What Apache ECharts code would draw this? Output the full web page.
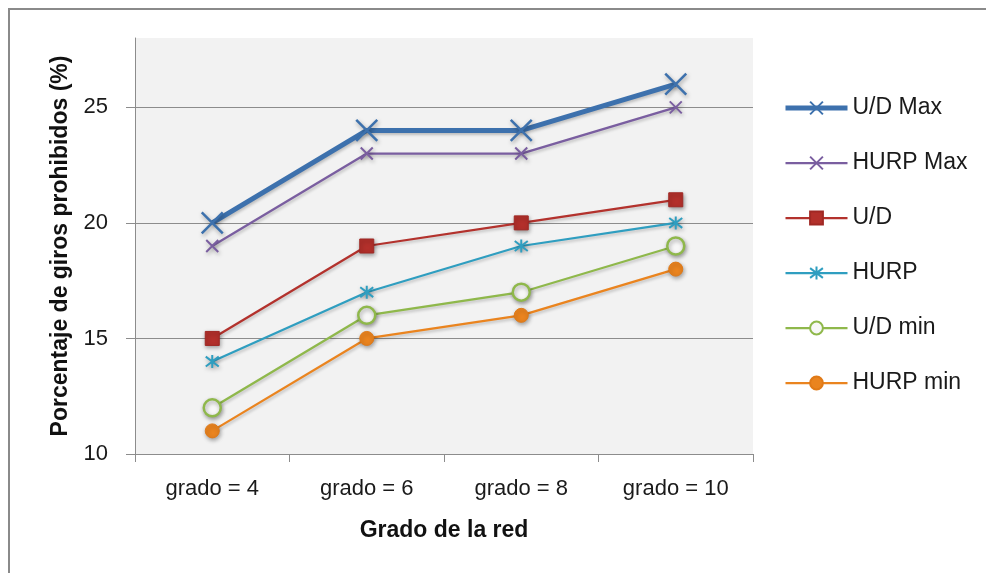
<!DOCTYPE html>
<html>
<head>
<meta charset="utf-8">
<title>Porcentaje de giros prohibidos</title>
<script src="https://cdn.jsdelivr.net/npm/echarts@6/dist/echarts.min.js"></script>
<style>
  html, body { margin: 0; padding: 0; background: #ffffff; }
  #chart { width: 986px; height: 573px; }
</style>
</head>
<body>
<div id="chart"></div>
<script>
// Network degree categories
const categories = ['grado = 4', 'grado = 6', 'grado = 8', 'grado = 10'];

// Percentage of prohibited turns per algorithm
const udMax   = [20, 24, 24, 26];
const hurpMax = [19, 23, 23, 25];
const ud      = [15, 19, 20, 21];
const hurp    = [14, 17, 19, 20];
const udMin   = [12, 16, 17, 19];
const hurpMin = [11, 15, 16, 18];

// Value axis ticks
const yTicks = [10, 15, 20, 25];

const FONT = "'Liberation Sans', Arial, sans-serif";
const GRID_GREY = '#8c8c8c';

const X_MARK = 'path://M0,0L10,10M10,0L0,10';
const STAR_MARK = 'path://M5,0L5,10M1.2,1.2L8.8,8.8M8.8,1.2L1.2,8.8';

const markShadow = { shadowColor: 'rgba(0,0,0,0.35)', shadowBlur: 4, shadowOffsetX: 1, shadowOffsetY: 2 };
const lineShadow = { shadowColor: 'rgba(0,0,0,0.22)', shadowBlur: 3, shadowOffsetX: 1, shadowOffsetY: 2 };

function makeSeries(name, data, color, opts) {
  return {
    name: name,
    type: 'line',
    data: data,
    z: 3,
    lineStyle: Object.assign({ color: color, width: opts.lineWidth || 2.25 }, lineShadow),
    itemStyle: Object.assign({ color: color }, opts.itemStyle || {}, markShadow),
    symbol: opts.symbol,
    symbolSize: opts.symbolSize,
    showAllSymbol: true,
    emphasis: { disabled: true }
  };
}

const series = [
  makeSeries('U/D Max', udMax, '#3d71ad', {
    lineWidth: 5, symbol: X_MARK, symbolSize: 21,
    itemStyle: { borderColor: '#3d71ad', borderWidth: 2.5 }
  }),
  makeSeries('HURP Max', hurpMax, '#7a5ea0', {
    symbol: X_MARK, symbolSize: 12,
    itemStyle: { borderColor: '#7a5ea0', borderWidth: 2 }
  }),
  makeSeries('U/D', ud, '#b3322d', {
    symbol: 'rect', symbolSize: 14,
    itemStyle: { color: '#b3302b', borderColor: '#a02824', borderWidth: 1 }
  }),
  makeSeries('HURP', hurp, '#2f9ec0', {
    symbol: STAR_MARK, symbolSize: 13,
    itemStyle: { borderColor: '#2f9ec0', borderWidth: 2 }
  }),
  makeSeries('U/D min', udMin, '#8fb84b', {
    symbol: 'circle', symbolSize: 17,
    itemStyle: { color: '#f7f7f7', borderColor: '#8fb84b', borderWidth: 2.5 }
  }),
  makeSeries('HURP min', hurpMin, '#ea841f', {
    symbol: 'circle', symbolSize: 14,
    itemStyle: { color: '#ea841f', borderColor: '#e07a18', borderWidth: 1 }
  })
];

// Legend entries keep each series' own line width
const legendData = series.map(s => ({
  name: s.name,
  lineStyle: { width: s.lineStyle.width, color: s.lineStyle.color }
}));

const chart = echarts.init(document.getElementById('chart'), null, { renderer: 'canvas' });

chart.setOption({
  animation: false,
  backgroundColor: '#ffffff',
  textStyle: { fontFamily: FONT },
  graphic: [{
    type: 'rect',
    shape: { x: 9, y: 9, width: 1000, height: 600 },
    style: { fill: 'none', stroke: '#8a8a8a', lineWidth: 2 },
    silent: true,
    z: 0
  }],
  grid: {
    left: 135, right: 233, top: 38, bottom: 119,
    show: true, backgroundColor: '#f2f2f2', borderWidth: 0
  },
  legend: {
    orient: 'vertical',
    left: 783,
    top: 95,
    padding: 0,
    itemWidth: 62,
    itemHeight: 16,
    itemGap: 29,
    textStyle: { fontSize: 23, color: '#1a1a1a', fontFamily: FONT, lineHeight: 26 },
    data: legendData
  },
  xAxis: {
    type: 'category',
    data: categories,
    boundaryGap: true,
    axisLine: { lineStyle: { color: GRID_GREY, width: 1 } },
    axisTick: { show: true, length: 8, lineStyle: { color: GRID_GREY } },
    axisLabel: { fontSize: 22, color: '#1a1a1a', margin: 24, fontFamily: FONT },
    name: 'Grado de la red',
    nameLocation: 'middle',
    nameGap: 65,
    nameTextStyle: { fontSize: 23, fontWeight: 'bold', color: '#111', fontFamily: FONT },
    splitLine: { show: false }
  },
  yAxis: {
    type: 'value',
    min: 10,
    max: 28,
    interval: 5,
    axisLine: { show: true, lineStyle: { color: GRID_GREY, width: 1 } },
    axisTick: { show: true, length: 9, customValues: yTicks, lineStyle: { color: GRID_GREY } },
    axisLabel: { fontSize: 22, color: '#1a1a1a', margin: 27, customValues: yTicks, fontFamily: FONT },
    splitLine: {
      show: true,
      lineStyle: { color: ['rgba(0,0,0,0)', GRID_GREY, GRID_GREY, GRID_GREY, 'rgba(0,0,0,0)'], width: 1 }
    },
    name: 'Porcentaje de giros prohibidos (%)',
    nameLocation: 'middle',
    nameGap: 62,
    nameTextStyle: { fontSize: 23, fontWeight: 'bold', color: '#111', fontFamily: FONT }
  },
  series: series
});
</script>
</body>
</html>
